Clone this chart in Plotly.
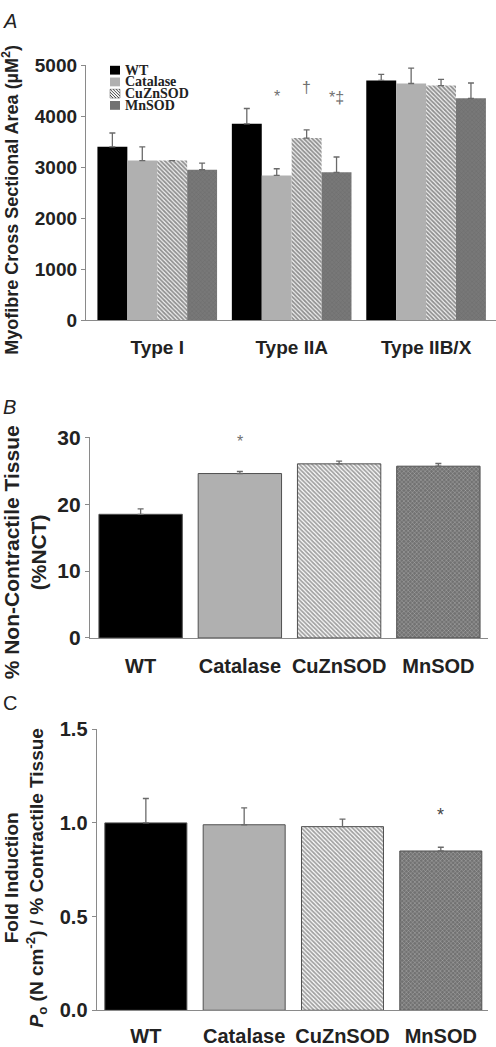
import plotly.graph_objects as go

W, H = 496, 1047

# ---------------- data ----------------
fiber_types = ["Type I", "Type IIA", "Type IIB/X"]
groups = ["WT", "Catalase", "CuZnSOD", "MnSOD"]

csa_wt = [3400, 3850, 4700]
csa_wt_err = [270, 300, 120]
csa_cat = [3130, 2840, 4640]
csa_cat_err = [270, 130, 300]
csa_cuzn = [3130, 3570, 4600]
csa_cuzn_err = [0, 160, 120]
csa_mn = [2950, 2900, 4350]
csa_mn_err = [130, 300, 300]

nct_vals = [18.5, 24.6, 26.05, 25.7]
nct_err = [0.8, 0.3, 0.4, 0.4]

po_vals = [1.0, 0.99, 0.98, 0.85]
po_err = [0.13, 0.09, 0.04, 0.02]

# ---------------- styles ----------------
STYLE = {
    "WT": dict(color="#000000", pattern=dict(shape="")),
    "Catalase": dict(color="#b0b0b0", pattern=dict(shape="")),
    "CuZnSOD": dict(color="#ffffff", pattern=dict(shape="\\", size=3, solidity=0.6,
                                                 fgcolor="#2e2e2e", bgcolor="#f2f2f2",
                                                 fillmode="overlay")),
    "MnSOD": dict(color="#727272", pattern=dict(shape="x", size=3, solidity=0.25,
                                               fgcolor="#5a5a5a", bgcolor="#787878",
                                               fillmode="overlay")),
}
ERR_COLOR = "#6a6a6a"
AX_COLOR = "#8a8a8a"
SANS = "Liberation Sans"
SERIF = "Liberation Serif"


def py(p):
    return 1 - p / H


def px(p):
    return p / W


fig = go.Figure()

# ---------------- panel A ----------------
series_a = [(csa_wt, csa_wt_err), (csa_cat, csa_cat_err),
            (csa_cuzn, csa_cuzn_err), (csa_mn, csa_mn_err)]
for g, (vals, errs) in zip(groups, series_a):
    st = STYLE[g]
    fig.add_trace(go.Bar(
        x=fiber_types, y=vals, name=g, xaxis="x", yaxis="y", showlegend=False,
        marker=dict(color=st["color"], pattern=st["pattern"], line=dict(width=0)),
        error_y=dict(type="data", symmetric=False, array=errs,
                     arrayminus=[0] * len(errs), color=ERR_COLOR,
                     thickness=1.3, width=3),
    ))

# ---------------- panels B and C ----------------
colors = [STYLE[g]["color"] for g in groups]
shapes_p = [STYLE[g]["pattern"].get("shape", "") for g in groups]
fg_p = [STYLE[g]["pattern"].get("fgcolor", STYLE[g]["color"]) for g in groups]
bg_p = [STYLE[g]["pattern"].get("bgcolor", STYLE[g]["color"]) for g in groups]
size_p = [STYLE[g]["pattern"].get("size", 4) for g in groups]
sol_p = [STYLE[g]["pattern"].get("solidity", 0.3) for g in groups]

for vals, errs, xa, ya, w in [(nct_vals, nct_err, "x2", "y2", 0.84),
                              (po_vals, po_err, "x3", "y3", 0.834)]:
    fig.add_trace(go.Bar(
        x=groups, y=vals, xaxis=xa, yaxis=ya, showlegend=False, width=w,
        marker=dict(color=colors,
                    pattern=dict(shape=shapes_p, fgcolor=fg_p, bgcolor=bg_p,
                                 size=size_p, solidity=sol_p, fillmode="overlay"),
                    line=dict(width=1, color="#505050")),
        error_y=dict(type="data", symmetric=False, array=errs,
                     arrayminus=[0] * len(errs), color=ERR_COLOR,
                     thickness=1.3, width=3),
    ))


def tick_font(s):
    return dict(family=SANS, size=s, color="#222222", weight="bold")


common_x = dict(showline=True, linecolor=AX_COLOR, linewidth=1.3, showgrid=False,
                zeroline=False, ticks="outside", tickcolor="rgba(0,0,0,0)",
                fixedrange=True, type="category")
common_y = dict(showline=True, linecolor=AX_COLOR, linewidth=1.3, showgrid=False,
                zeroline=False, ticks="outside", ticklen=4, tickcolor=AX_COLOR,
                tickwidth=1.2)

fig.update_layout(
    width=W, height=H,
    margin=dict(l=0, r=0, t=0, b=0),
    paper_bgcolor="white", plot_bgcolor="white",
    barmode="group", bargap=0.11, bargroupgap=0,
    xaxis=dict(common_x, domain=[px(86), 1.0], range=[-0.53, 2.52], anchor="y",
               ticklen=10, tickfont=tick_font(19)),
    yaxis=dict(common_y, domain=[py(315.3), py(54.3)], range=[0, 5000], dtick=1000,
               anchor="x", tickfont=tick_font(19)),
    xaxis2=dict(common_x, domain=[px(90), px(488)], range=[-0.51, 3.5], anchor="y2",
                ticklen=10, tickfont=tick_font(20)),
    yaxis2=dict(common_y, domain=[py(640), py(435)], range=[0, 30], dtick=10,
                anchor="x2", tickfont=tick_font(21)),
    xaxis3=dict(common_x, domain=[px(96.7), px(488)], range=[-0.5, 3.48], anchor="y3",
                ticklen=8, tickfont=tick_font(20)),
    yaxis3=dict(common_y, domain=[py(1020.7), py(733.3)], range=[0, 1.5], dtick=0.5,
                tickformat=".1f", anchor="x3", tickfont=tick_font(20)),
)

ann = []
# panel labels
ann.append(dict(text="<i>A</i>", x=px(1), y=py(-4), xanchor="left", yanchor="top",
                font=dict(family=SANS, size=20, color="#222")))
ann.append(dict(text="<i>B</i>", x=px(1), y=py(391), xanchor="left", yanchor="top",
                font=dict(family=SANS, size=20, color="#222")))
ann.append(dict(text="C", x=px(1), y=py(693), xanchor="left", yanchor="top",
                font=dict(family=SANS, size=20, color="#222")))

# axis titles
ann.append(dict(text="Myofibre Cross Sectional Area (µM<sup>2</sup>)", x=px(11), y=py(192),
                textangle=-90, xanchor="center", yanchor="middle",
                font=dict(family=SANS, size=18, color="#222", weight="bold")))
ann.append(dict(text="% Non-Contractile Tissue<br>(%NCT)", x=px(24.5), y=py(553),
                textangle=-90, xanchor="center", yanchor="middle",
                font=dict(family=SANS, size=21, color="#222", weight="bold")))
ann.append(dict(text="Fold Induction<br><i>P</i><sub>o</sub> (N cm<sup>-2</sup>) / % Contractile Tissue",
                x=px(26), y=py(886), textangle=-90, xanchor="center", yanchor="middle",
                font=dict(family=SANS, size=19, color="#222", weight="bold")))

# significance marks
mark_font = dict(family=SANS, size=16, color="#707070")
ann += [
    dict(text="*", x=1 - 0.111, y=4390, xref="x", yref="y", showarrow=False, font=mark_font),
    dict(text="†", x=1 + 0.111, y=4560, xref="x", yref="y", showarrow=False, font=mark_font),
    dict(text="*‡", x=1 + 0.334, y=4370, xref="x", yref="y", showarrow=False, font=mark_font),
    dict(text="*", x=1, y=29.4, xref="x2", yref="y2", showarrow=False, font=mark_font),
    dict(text="*", x=2, y=30.5, xref="x2", yref="y2", showarrow=False, font=mark_font),
    dict(text="*", x=3, y=30.5, xref="x2", yref="y2", showarrow=False, font=mark_font),
    dict(text="*", x=3, y=1.04, xref="x3", yref="y3", showarrow=False,
         font=dict(family=SANS, size=18, color="#444")),
]

# manual compact legend for panel A
leg_rows = [59.5, 71.5, 83.5, 95.5]
shapes = []
SX0, SX1, HALF = 110, 120, 4.5
for g, cy in zip(groups, leg_rows):
    ann.append(dict(text=g, x=px(123), y=py(cy), xanchor="left", yanchor="middle",
                    font=dict(family=SERIF, size=14, color="#222", weight="bold")))
    top, bot = cy - HALF, cy + HALF
    if g == "CuZnSOD":
        shapes.append(dict(type="rect", xref="paper", yref="paper", x0=px(SX0), x1=px(SX1),
                           y0=py(bot), y1=py(top), fillcolor="white",
                           line=dict(width=0.6, color="#777")))
        path = ""
        side = bot - top
        for a in range(-9, 11, 3):
            t0 = max(0.0, -a)
            t1 = min(side, (SX1 - SX0) - a)
            if t1 <= t0:
                continue
            path += (f"M{px(SX0 + a + t0)},{py(top + t0)} "
                     f"L{px(SX0 + a + t1)},{py(top + t1)} ")
        shapes.append(dict(type="path", xref="paper", yref="paper", path=path,
                           line=dict(width=1, color="#444")))
    else:
        shapes.append(dict(type="rect", xref="paper", yref="paper", x0=px(SX0), x1=px(SX1),
                           y0=py(bot), y1=py(top), fillcolor=STYLE[g]["color"],
                           line=dict(width=0)))

for a in ann:
    a.setdefault("xref", "paper")
    a.setdefault("yref", "paper")
    a.setdefault("showarrow", False)

fig.update_layout(annotations=ann, shapes=shapes)
fig.write_html("out.html",
               config={"displayModeBar": False},
               post_script="document.body.style.margin='0px';"
                           "document.body.style.overflow='hidden';")
